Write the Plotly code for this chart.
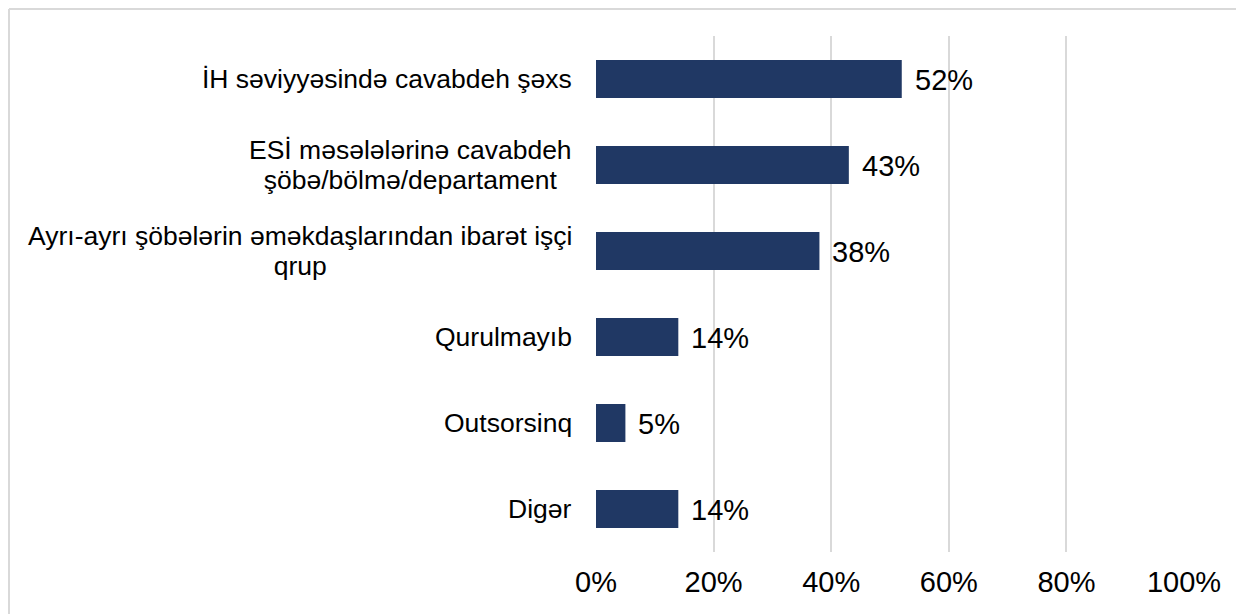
import plotly.graph_objects as go

categories = [
    "İH səviyyəsində cavabdeh şəxs",
    "ESİ məsələlərinə cavabdeh\nşöbə/bölmə/departament",
    "Ayrı-ayrı şöbələrin əməkdaşlarından ibarət işçi\nqrup",
    "Qurulmayıb",
    "Outsorsinq",
    "Digər",
]
values = [0.52, 0.43, 0.38, 0.14, 0.05, 0.14]
value_labels = ["52%", "43%", "38%", "14%", "5%", "14%"]
tick_vals = [0, 0.2, 0.4, 0.6, 0.8, 1.0]
tick_text = ["0%", "20%", "40%", "60%", "80%", "100%"]

FONT = "Liberation Sans, Arial, sans-serif"
BAR_COLOR = "#203864"
GRID = "#d9d9d9"

# figure geometry (page body adds an 8px margin)
W, H = 1236, 606
ML, MR, MT, MB = 588, 60, 28, 62
PW, PH = W - ML - MR, H - MT - MB

fig = go.Figure()
fig.add_trace(go.Bar(
    x=values,
    y=categories,
    orientation="h",
    marker=dict(color=BAR_COLOR, line=dict(width=0)),
    hoverinfo="skip",
))

annotations = []
for cat in categories:
    lines = cat.split("\n")
    text = "<br>".join(
        '<span style="font-size:26.5px">%s</span>' % ln for ln in lines
    )
    annotations.append(dict(
        x=0, xref="paper", xanchor="right", xshift=-22,
        y=cat, yref="y", yanchor="middle", align="center",
        text=text, showarrow=False,
        # base size sets the line spacing (1.3 x 23 = 30 px)
        font=dict(family=FONT, size=23, color="#000000"),
    ))
for cat, v, lab in zip(categories, values, value_labels):
    annotations.append(dict(
        x=v, xref="x", xanchor="left", xshift=11,
        y=cat, yref="y", yanchor="middle", yshift=-1,
        text=lab, showarrow=False,
        font=dict(family=FONT, size=29, color="#000000"),
    ))

frame_x = (1 - ML) / PW
frame_y = (PH + MT - 1) / PH

fig.update_layout(
    width=W, height=H,
    margin=dict(l=ML, r=MR, t=MT, b=MB),
    paper_bgcolor="white", plot_bgcolor="white",
    showlegend=False,
    bargap=0.56,
    annotations=annotations,
    font=dict(family=FONT, color="#000000"),
    xaxis=dict(
        range=[0, 1],
        tickvals=tick_vals, ticktext=tick_text,
        showgrid=True, gridcolor=GRID, gridwidth=2,
        zeroline=False, showline=False, ticks="",
        tickfont=dict(family=FONT, size=29, color="#000000"),
        ticklabelstandoff=10,
        fixedrange=True,
    ),
    yaxis=dict(
        autorange="reversed",
        showticklabels=False, showgrid=False, zeroline=False,
        showline=False, ticks="",
        fixedrange=True,
    ),
    shapes=[
        dict(type="line", xref="paper", yref="paper",
             x0=frame_x, x1=1.2, y0=frame_y, y1=frame_y,
             line=dict(color=GRID, width=2)),
        dict(type="line", xref="paper", yref="paper",
             x0=frame_x, x1=frame_x, y0=frame_y, y1=-0.3,
             line=dict(color=GRID, width=2)),
    ],
)

fig.write_html("out.html")
